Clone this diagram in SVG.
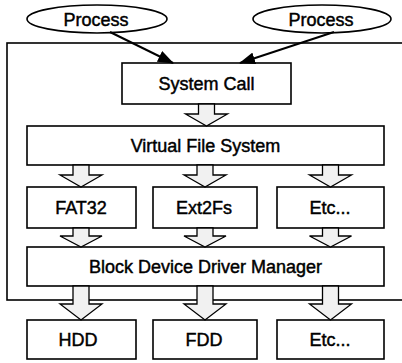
<svg xmlns="http://www.w3.org/2000/svg" width="402" height="363" viewBox="0 0 402 363">
<style>
.box{fill:#fff;stroke:#000;stroke-width:1.6}
.lbl{font-family:"Liberation Sans",Arial,sans-serif;font-size:18px;fill:#000;stroke:#000;stroke-width:0.45;text-anchor:middle}
.blk{fill:#f1f1f1;stroke:#000;stroke-width:1.3;stroke-linejoin:miter}
.ln{stroke:#000;stroke-width:2;fill:none}
</style>
<defs>
<marker id="ah" markerUnits="userSpaceOnUse" markerWidth="16" markerHeight="12" viewBox="0 0 16 12" refX="15" refY="6" orient="auto">
<path d="M0,0 L16,6 L0,12 Z" fill="#000"/>
</marker>
</defs>
<g id="kernel"><rect x="7" y="43" width="400" height="257" fill="none" stroke="#000" stroke-width="1.6"/></g>
<g id="process1"><ellipse cx="97" cy="19" rx="70" ry="14" class="box"/><text x="96" y="25.5" class="lbl">Process</text></g>
<g id="process2"><ellipse cx="322" cy="19" rx="69" ry="14" class="box"/><text x="321" y="25.5" class="lbl">Process</text></g>
<g id="syscall"><rect x="122" y="63" width="169" height="41" class="box"/><text x="206.5" y="90" class="lbl">System Call</text></g>
<g id="vfs"><rect x="27" y="126" width="357" height="39" class="box"/><text x="205.5" y="152" class="lbl">Virtual File System</text></g>
<g id="fat32"><rect x="27" y="187" width="109" height="41" class="box"/><text x="81" y="214" class="lbl">FAT32</text></g>
<g id="ext2fs"><rect x="153" y="187" width="104" height="41" class="box"/><text x="204" y="214" class="lbl">Ext2Fs</text></g>
<g id="etc1"><rect x="277" y="187" width="107" height="41" class="box"/><text x="330" y="214" class="lbl">Etc...</text></g>
<g id="bddm"><rect x="27" y="247" width="357" height="39" class="box"/><text x="205.5" y="273" class="lbl">Block Device Driver Manager</text></g>
<g id="hdd"><rect x="27" y="320" width="109" height="39" class="box"/><text x="78" y="346" class="lbl">HDD</text></g>
<g id="fdd"><rect x="153" y="320" width="104" height="39" class="box"/><text x="204" y="346" class="lbl">FDD</text></g>
<g id="etc2"><rect x="277" y="320" width="107" height="39" class="box"/><text x="330" y="346" class="lbl">Etc...</text></g>
<g id="connectors">
<line x1="110" y1="32" x2="173" y2="63" class="ln" marker-end="url(#ah)"/>
<line x1="334" y1="32" x2="240" y2="63" class="ln" marker-end="url(#ah)"/>
<path class="blk" d="M198.5,104 H214.5 V114 H227.5 L206.5,126 L185.5,114 H198.5 Z"/>
<path class="blk" d="M73,165 H89 V175 H102 L81,187 L60,175 H73 Z"/>
<path class="blk" d="M197,165 H213 V175 H226 L205,187 L184,175 H197 Z"/>
<path class="blk" d="M322.5,165 H338.5 V175 H351.5 L330.5,187 L309.5,175 H322.5 Z"/>
<path class="blk" d="M73,228 H89 V236 H102 L81,247 L60,236 H73 Z"/>
<path class="blk" d="M197,228 H213 V236 H226 L205,247 L184,236 H197 Z"/>
<path class="blk" d="M322.5,228 H338.5 V236 H351.5 L330.5,247 L309.5,236 H322.5 Z"/>
<path class="blk" d="M73,286 H89 V304 H102 L81,320 L60,304 H73 Z"/>
<path class="blk" d="M197,286 H213 V304 H226 L205,320 L184,304 H197 Z"/>
<path class="blk" d="M322.5,286 H338.5 V304 H351.5 L330.5,320 L309.5,304 H322.5 Z"/>
</g>
</svg>
